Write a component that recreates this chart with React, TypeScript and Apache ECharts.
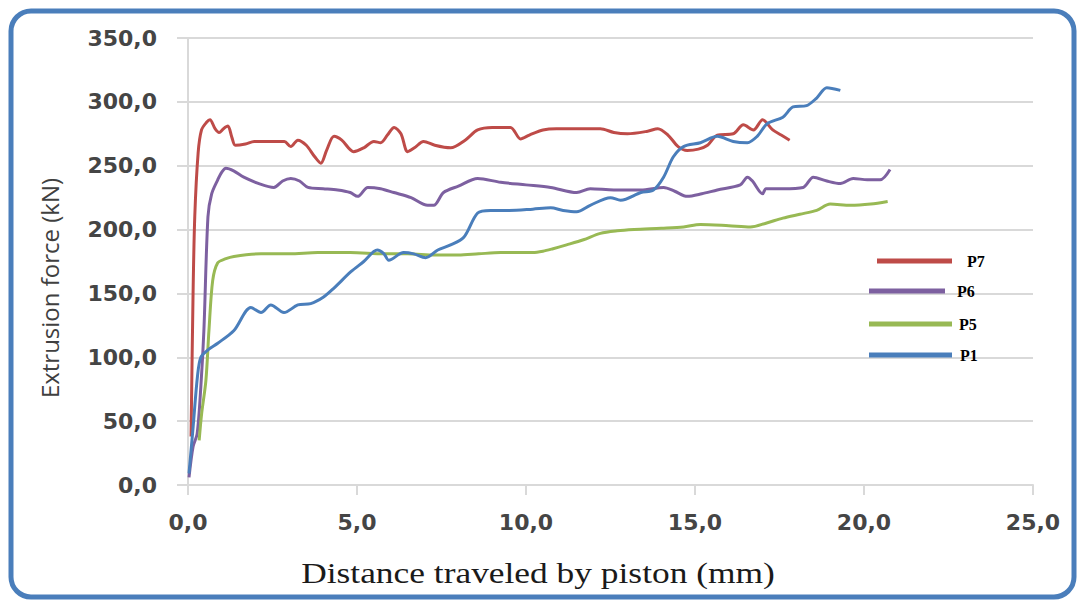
import React, { useEffect, useRef } from "react";
import * as echarts from "echarts";

// Extrusion force vs. piston travel for four samples, [distance mm, force kN]
const p7: [number, number][] = [
  [0.09, 38], [0.15, 150], [0.2, 210], [0.3, 260], [0.4, 278], [0.55, 284], [0.65, 286],
  [0.8, 279], [0.92, 276], [1.05, 279], [1.18, 281], [1.3, 272], [1.4, 266], [1.7, 267],
  [1.96, 269], [2.4, 269], [2.85, 269], [3.04, 265], [3.25, 270], [3.5, 266], [3.75, 257],
  [3.93, 252], [4.1, 262], [4.32, 273], [4.55, 270], [4.9, 261], [5.2, 264], [5.5, 269],
  [5.7, 268], [5.9, 274], [6.1, 280], [6.3, 275], [6.5, 261], [6.7, 264], [6.97, 269],
  [7.3, 266], [7.77, 264], [8.2, 270], [8.57, 278], [9.0, 280], [9.54, 280], [9.84, 271],
  [10.1, 274], [10.5, 278], [10.9, 279], [11.5, 279], [12.2, 279], [12.6, 276], [13.0, 275],
  [13.6, 277], [13.9, 279], [14.2, 274], [14.5, 265], [14.77, 262], [15.1, 263], [15.37, 266],
  [15.66, 274], [16.13, 275], [16.43, 282], [16.73, 278], [17.0, 286], [17.3, 278],
  [17.55, 274], [17.8, 270],
];

const p6: [number, number][] = [
  [0.03, 6], [0.15, 30], [0.27, 40], [0.38, 77], [0.47, 121], [0.59, 210], [0.7, 228],
  [0.88, 239], [1.0, 245], [1.12, 248], [1.35, 246], [1.65, 241], [2.1, 236], [2.54, 233],
  [2.8, 238], [3.04, 240], [3.3, 238], [3.55, 233], [4.0, 232], [4.43, 231], [4.8, 229],
  [5.02, 226], [5.32, 233], [5.7, 232], [6.09, 229], [6.6, 225], [7.09, 219], [7.27, 219],
  [7.56, 229], [8.0, 234], [8.57, 240], [9.25, 237], [10.0, 235], [10.73, 233], [11.5, 229],
  [11.9, 232], [12.6, 231], [13.4, 231], [14.07, 233], [14.4, 230], [14.77, 226], [15.2, 228],
  [15.66, 231], [16.34, 235], [16.55, 241], [16.7, 238], [17.0, 228], [17.1, 232], [17.6, 232],
  [18.2, 233], [18.5, 241], [18.9, 238], [19.3, 236], [19.68, 240], [20.1, 239], [20.48, 239],
  [20.77, 247],
];

const p5: [number, number][] = [
  [0.33, 35], [0.4, 55], [0.53, 82], [0.62, 121], [0.73, 160], [0.88, 174], [1.1, 177],
  [1.36, 179], [2.16, 181], [3.0, 181], [3.84, 182], [4.8, 182], [5.8, 181], [6.5, 181],
  [7.3, 180], [8.0, 180], [8.6, 181], [9.25, 182], [10.2, 182], [10.5, 183], [10.8, 185],
  [11.2, 188], [11.7, 192], [12.2, 197], [12.7, 199], [13.2, 200], [14.0, 201], [14.66, 202],
  [15.16, 204], [16.0, 203], [16.64, 202], [17.1, 205], [17.6, 209], [18.1, 212], [18.6, 215],
  [19.0, 220], [19.6, 219], [20.2, 220], [20.7, 222],
];

const p1: [number, number][] = [
  [0.03, 9], [0.15, 45], [0.28, 85], [0.38, 100], [0.6, 106], [0.88, 111], [1.36, 121],
  [1.86, 139], [2.16, 135], [2.45, 141], [2.84, 135], [3.25, 141], [3.63, 142], [4.0, 147],
  [4.31, 154], [4.82, 167], [5.2, 175], [5.6, 184], [5.8, 181], [5.94, 176], [6.38, 182],
  [6.68, 181], [7.03, 178], [7.39, 184], [7.77, 188], [8.16, 194], [8.57, 213], [8.95, 215],
  [9.5, 215], [10.2, 216], [10.73, 217], [11.1, 215], [11.5, 214], [11.9, 219], [12.5, 225],
  [12.8, 223], [13.4, 229], [13.77, 231], [14.07, 241], [14.36, 257], [14.66, 265],
  [15.16, 268], [15.66, 273], [16.13, 269], [16.55, 268], [16.84, 273], [17.14, 283],
  [17.6, 288], [17.9, 296], [18.3, 297], [18.6, 303], [18.9, 311], [19.3, 309],
];

const seriesNames = ["P7", "P6", "P5", "P1"];
const seriesColors = ["#be4b48", "#7d60a0", "#98b954", "#4a7ebb"];
const seriesData = [p7, p6, p5, p1];

const xTitle = "Distance traveled by piston (mm)";
const yTitle = "Extrusion force (kN)";

const fmt = (v: number) => v.toFixed(1).replace(".", ",");

// legend rows: [icon left, icon centre y, icon width, gap to text]
const legendRows: [number, number, number, number][] = [
  [877, 262, 75, 10],
  [869, 292, 76, 7],
  [869, 325, 83, 2],
  [869, 356, 83, 3],
];

export default function App() {
  const ref = useRef<HTMLDivElement>(null);

  useEffect(() => {
    if (!ref.current) return;
    const chart = echarts.init(ref.current, undefined, { renderer: "svg" });
    const gridColor = "#d9d9d9";
    const labelStyle = {
      fontFamily: "DejaVu Sans",
      fontSize: 22,
      fontWeight: "bold" as const,
      color: "#454545",
    };

    chart.setOption({
      animation: false,
      backgroundColor: "#ffffff",
      grid: { left: 188, right: 45, top: 38, bottom: 119, containLabel: false },
      xAxis: {
        type: "value",
        min: 0,
        max: 25,
        interval: 5,
        axisLine: { show: true, lineStyle: { color: gridColor, width: 2 } },
        axisTick: { show: true, inside: false, length: 10, lineStyle: { color: gridColor, width: 2 } },
        splitLine: { show: false },
        axisLabel: { ...labelStyle, margin: 26, formatter: fmt },
      },
      yAxis: {
        type: "value",
        min: 0,
        max: 350,
        interval: 50,
        axisLine: { show: true, lineStyle: { color: gridColor, width: 2 } },
        axisTick: { show: true, inside: false, length: 11, lineStyle: { color: gridColor, width: 2 } },
        splitLine: { show: true, lineStyle: { color: gridColor, width: 2 } },
        axisLabel: { ...labelStyle, margin: 31, formatter: fmt },
      },
      legend: legendRows.map(([left, cy, w, gap], i) => ({
        data: [seriesNames[i]],
        left,
        top: cy - 9,
        padding: 0,
        icon: "rect",
        itemWidth: w,
        itemHeight: 5,
        itemStyle: { borderWidth: 0 },
        textStyle: {
          fontFamily: "Liberation Serif",
          fontWeight: "bold",
          fontSize: 16,
          color: "#000000",
          padding: [0, 0, 6, gap],
        },
      })),
      series: seriesData.map((d, i) => ({
        name: seriesNames[i],
        type: "line",
        data: d,
        showSymbol: false,
        smooth: 0.3,
        lineStyle: { color: seriesColors[i], width: 3 },
        itemStyle: { color: seriesColors[i] },
      })),
      graphic: [
        {
          type: "rect",
          shape: { x: 11, y: 11, width: 1063, height: 586, r: 20 },
          style: { fill: "none", stroke: "#4a7ebb", lineWidth: 5 },
          silent: true,
        },
        {
          type: "text",
          x: 538,
          y: 573,
          scaleX: 1.18,
          style: {
            text: xTitle,
            fontFamily: "Liberation Serif",
            fontSize: 30,
            fill: "#1a1a1a",
            textAlign: "center",
            textVerticalAlign: "middle",
          },
        },
        {
          type: "text",
          x: 49,
          y: 288,
          rotation: Math.PI / 2,
          style: {
            text: yTitle,
            fontFamily: "Open Sans",
            fontSize: 24,
            fill: "#404040",
            textAlign: "center",
            textVerticalAlign: "middle",
          },
        },
      ],
    });

    return () => chart.dispose();
  }, []);

  return (
    <div
      ref={ref}
      style={{ position: "fixed", left: 0, top: 0, width: 1078, height: 604, background: "#fff" }}
    />
  );
}
